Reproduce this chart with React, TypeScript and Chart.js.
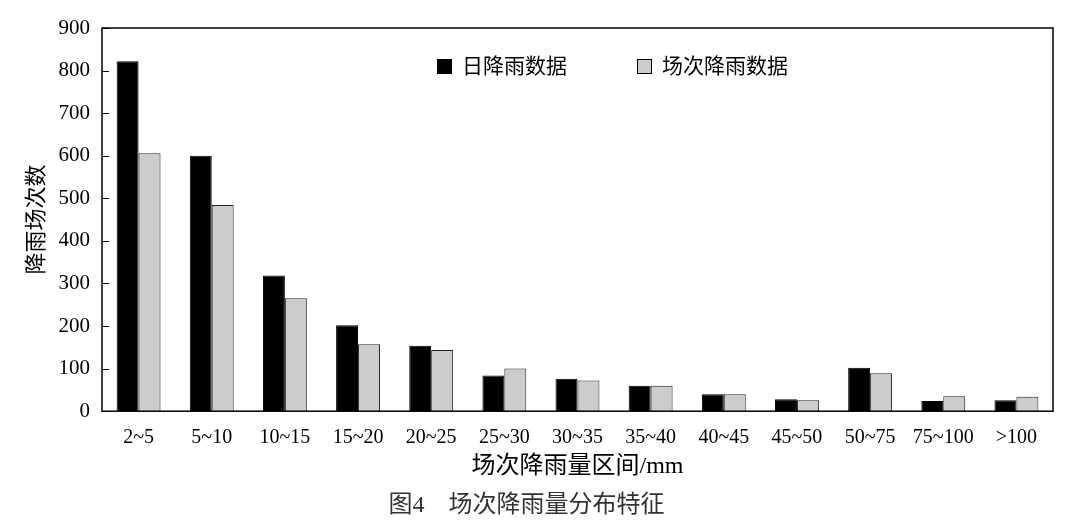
import React, { useEffect, useRef } from "react";
import { Chart, registerables } from "chart.js";

Chart.register(...registerables);

const categories = ["2~5", "5~10", "10~15", "15~20", "20~25", "25~30", "30~35", "35~40", "40~45", "45~50", "50~75", "75~100", ">100"];
const dailyRain = [822, 600, 319, 202, 154, 84, 76, 60, 40, 28, 102, 24, 26];
const eventRain = [606, 484, 265, 157, 144, 100, 72, 60, 40, 26, 89, 35, 34];
const seriesNames = ["日降雨数据", "场次降雨数据"];
const seriesColors = ["#000000", "#cccccc"];
const yTicks = [0, 100, 200, 300, 400, 500, 600, 700, 800, 900];

const SERIF = "'Liberation Serif', 'Times New Roman', 'Noto Sans CJK SC', serif";

const frame = {
  id: "frame",
  afterDatasetsDraw(chart: any) {
    const { ctx, chartArea } = chart;
    const y = chart.scales.y;
    ctx.save();
    ctx.strokeStyle = "#000";
    ctx.lineWidth = 1.5;
    ctx.strokeRect(chartArea.left, chartArea.top, chartArea.right - chartArea.left, chartArea.bottom - chartArea.top);
    ctx.lineWidth = 1.2;
    ctx.beginPath();
    for (const v of yTicks) {
      const py = Math.round(y.getPixelForValue(v)) + 0.5;
      ctx.moveTo(chartArea.left, py);
      ctx.lineTo(chartArea.left + 7, py);
    }
    ctx.stroke();
    ctx.restore();
  },
};

export default function App() {
  const ref = useRef<HTMLCanvasElement>(null);
  useEffect(() => {
    const chart = new Chart(ref.current as HTMLCanvasElement, {
      type: "bar",
      data: {
        labels: categories,
        datasets: [
          { label: seriesNames[0], data: dailyRain, backgroundColor: seriesColors[0], borderColor: "#000", borderWidth: 1 },
          { label: seriesNames[1], data: eventRain, backgroundColor: seriesColors[1], borderColor: "#222", borderWidth: 1 },
        ],
      },
      options: {
        animation: false,
        responsive: false,
        devicePixelRatio: 1,
        datasets: { bar: { categoryPercentage: 0.6, barPercentage: 1.0 } },
        layout: { padding: { top: 28, right: 23, left: 0, bottom: 0 } },
        plugins: {
          legend: { display: false },
          tooltip: { enabled: false },
          title: {
            display: true,
            position: "bottom",
            text: "图4　场次降雨量分布特征",
            color: "#333",
            font: { family: SERIF, size: 24, weight: "normal" },
            padding: { top: 0, bottom: 4 },
          },
        },
        scales: {
          x: {
            grid: { display: false, drawTicks: false },
            border: { display: false },
            ticks: { color: "#000", padding: 15, maxRotation: 0, autoSkip: false, font: { family: SERIF, size: 20 } },
            title: {
              display: true,
              text: "场次降雨量区间/mm",
              color: "#000",
              font: { family: SERIF, size: 24 },
              padding: { top: 0, bottom: 10 },
            },
            afterFit: (s: any) => { s.height = 80; },
          },
          y: {
            min: 0,
            max: 900,
            grid: { display: false, drawTicks: false },
            border: { display: false },
            ticks: { stepSize: 100, color: "#000", padding: 12, font: { family: SERIF, size: 21 } },
            title: {
              display: true,
              text: "降雨场次数",
              color: "#000",
              font: { family: SERIF, size: 22 },
              padding: { top: 24, bottom: 0 },
            },
            afterFit: (s: any) => { s.width = 102; },
          },
        },
      },
      plugins: [frame],
    });
    return () => chart.destroy();
  }, []);

  const legendItem = (i: number, left: number) => (
    <div key={i} style={{ position: "absolute", left, top: 53, display: "flex", alignItems: "center", height: 26 }}>
      <span style={{ display: "inline-block", width: 15, height: 15, boxSizing: "border-box", background: seriesColors[i], border: "1px solid #000", marginRight: 10 }} />
      <span style={{ fontFamily: SERIF, fontSize: 21, color: "#000", lineHeight: "26px" }}>{seriesNames[i]}</span>
    </div>
  );

  return (
    <div style={{ position: "fixed", left: 0, top: 0, width: 1076, height: 524, background: "#fff" }}>
      <canvas ref={ref} width={1076} height={524} style={{ width: 1076, height: 524, display: "block" }} />
      {legendItem(0, 437)}
      {legendItem(1, 637)}
    </div>
  );
}
